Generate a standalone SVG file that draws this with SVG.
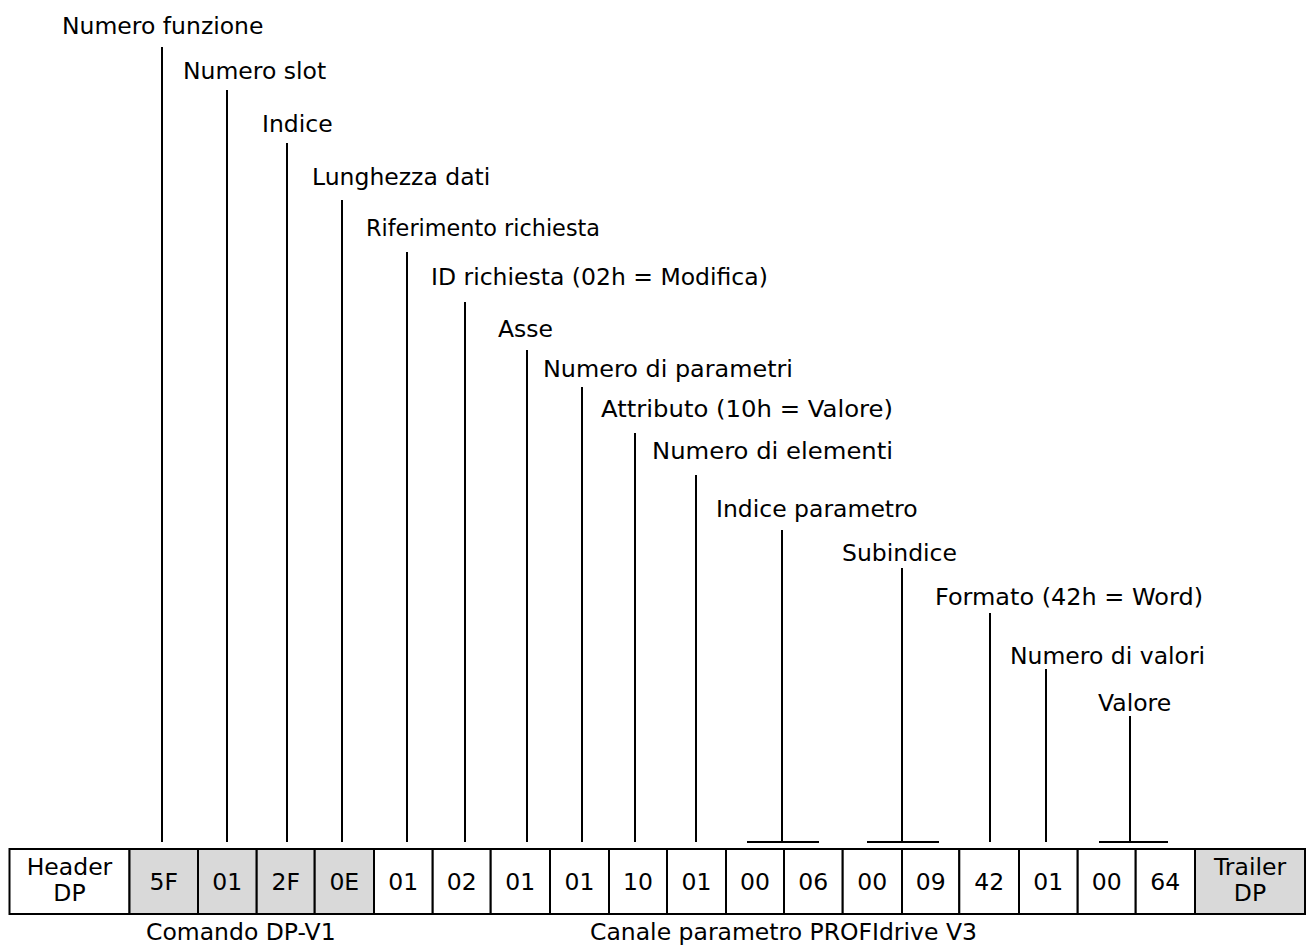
<svg xmlns="http://www.w3.org/2000/svg" width="1307" height="945" viewBox="0 0 1307 945">
  <style>
    .lbl { font-family: "DejaVu Sans", "Liberation Sans", sans-serif; font-size: 23.5px; fill: #000; }
    .val { font-family: "DejaVu Sans", "Liberation Sans", sans-serif; font-size: 23.5px; fill: #000; text-anchor: middle; }
    .cap { font-family: "DejaVu Sans", "Liberation Sans", sans-serif; font-size: 23.5px; fill: #000; }
    .cell { fill: #fff; stroke: #000; stroke-width: 2; }
    .cell.grey { fill: #d9d9d9; }
    .lead { stroke: #000; stroke-width: 2; fill: none; }
  </style>
  <rect width="1307" height="945" fill="#fff"/>

  <!-- field labels, stepped down from left to right -->
  <g id="lbl-funzione"><text class="lbl" x="62" y="34">Numero funzione</text></g>
  <g id="lbl-slot"><text class="lbl" x="183" y="79">Numero slot</text></g>
  <g id="lbl-indice"><text class="lbl" x="262" y="132">Indice</text></g>
  <g id="lbl-lunghezza"><text class="lbl" x="312" y="185">Lunghezza dati</text></g>
  <g id="lbl-riferimento"><text class="lbl" x="366" y="236" textLength="234" lengthAdjust="spacingAndGlyphs">Riferimento richiesta</text></g>
  <g id="lbl-id"><text class="lbl" x="431" y="285">ID richiesta (02h = Modifica)</text></g>
  <g id="lbl-asse"><text class="lbl" x="498" y="337">Asse</text></g>
  <g id="lbl-nparam"><text class="lbl" x="543" y="377" textLength="250" lengthAdjust="spacingAndGlyphs">Numero di parametri</text></g>
  <g id="lbl-attributo"><text class="lbl" x="601" y="417" textLength="292" lengthAdjust="spacingAndGlyphs">Attributo (10h = Valore)</text></g>
  <g id="lbl-nelem"><text class="lbl" x="652" y="459" textLength="241" lengthAdjust="spacingAndGlyphs">Numero di elementi</text></g>
  <g id="lbl-iparam"><text class="lbl" x="716" y="517">Indice parametro</text></g>
  <g id="lbl-subindice"><text class="lbl" x="842" y="561">Subindice</text></g>
  <g id="lbl-formato"><text class="lbl" x="935" y="605" textLength="268" lengthAdjust="spacingAndGlyphs">Formato (42h = Word)</text></g>
  <g id="lbl-nvalori"><text class="lbl" x="1010" y="664">Numero di valori</text></g>
  <g id="lbl-valore"><text class="lbl" x="1098" y="711">Valore</text></g>

  <!-- leader lines from labels down to the telegram bytes -->
  <g id="connectors" class="lead">
    <line x1="162" y1="47" x2="162" y2="842"/>
    <line x1="227" y1="90" x2="227" y2="842"/>
    <line x1="287" y1="143" x2="287" y2="842"/>
    <line x1="342" y1="200" x2="342" y2="842"/>
    <line x1="407" y1="252" x2="407" y2="842"/>
    <line x1="465" y1="302" x2="465" y2="842"/>
    <line x1="527" y1="350" x2="527" y2="842"/>
    <line x1="582" y1="387" x2="582" y2="842"/>
    <line x1="635" y1="433" x2="635" y2="842"/>
    <line x1="696" y1="475" x2="696" y2="842"/>
    <line x1="782" y1="530" x2="782" y2="842"/>
    <line x1="747" y1="842" x2="819" y2="842"/>
    <line x1="902" y1="568" x2="902" y2="842"/>
    <line x1="867" y1="842" x2="939" y2="842"/>
    <line x1="990" y1="613" x2="990" y2="842"/>
    <line x1="1046" y1="669" x2="1046" y2="842"/>
    <line x1="1130" y1="716" x2="1130" y2="842"/>
    <line x1="1099" y1="842" x2="1168" y2="842"/>
  </g>

  <!-- telegram byte cells -->
  <g id="cell-header"><rect class="cell" x="9.5" y="849" width="120" height="65"/><text class="val" x="69.5" y="875">Header</text><text class="val" x="69.5" y="901">DP</text></g>
  <g id="cell-5F"><rect class="cell grey" x="129.5" y="849" width="68.5" height="65"/><text class="val" x="163.8" y="890">5F</text></g>
  <g id="cell-01a"><rect class="cell grey" x="198" y="849" width="58.7" height="65"/><text class="val" x="227.3" y="890">01</text></g>
  <g id="cell-2F"><rect class="cell grey" x="256.7" y="849" width="58" height="65"/><text class="val" x="285.7" y="890">2F</text></g>
  <g id="cell-0E"><rect class="cell grey" x="314.7" y="849" width="59.3" height="65"/><text class="val" x="344.3" y="890">0E</text></g>
  <g id="cell-01b"><rect class="cell" x="374" y="849" width="58.7" height="65"/><text class="val" x="403.3" y="890">01</text></g>
  <g id="cell-02"><rect class="cell" x="432.7" y="849" width="58" height="65"/><text class="val" x="461.7" y="890">02</text></g>
  <g id="cell-01c"><rect class="cell" x="490.7" y="849" width="59.3" height="65"/><text class="val" x="520.3" y="890">01</text></g>
  <g id="cell-01d"><rect class="cell" x="550" y="849" width="59" height="65"/><text class="val" x="579.5" y="890">01</text></g>
  <g id="cell-10"><rect class="cell" x="609" y="849" width="58" height="65"/><text class="val" x="638" y="890">10</text></g>
  <g id="cell-01e"><rect class="cell" x="667" y="849" width="59" height="65"/><text class="val" x="696.5" y="890">01</text></g>
  <g id="cell-00a"><rect class="cell" x="726" y="849" width="58" height="65"/><text class="val" x="755" y="890">00</text></g>
  <g id="cell-06"><rect class="cell" x="784" y="849" width="58.7" height="65"/><text class="val" x="813.3" y="890">06</text></g>
  <g id="cell-00b"><rect class="cell" x="842.7" y="849" width="59.3" height="65"/><text class="val" x="872.3" y="890">00</text></g>
  <g id="cell-09"><rect class="cell" x="902" y="849" width="57.3" height="65"/><text class="val" x="930.7" y="890">09</text></g>
  <g id="cell-42"><rect class="cell" x="959.3" y="849" width="59.7" height="65"/><text class="val" x="989.2" y="890">42</text></g>
  <g id="cell-01f"><rect class="cell" x="1019" y="849" width="58.7" height="65"/><text class="val" x="1048.3" y="890">01</text></g>
  <g id="cell-00c"><rect class="cell" x="1077.7" y="849" width="58" height="65"/><text class="val" x="1106.7" y="890">00</text></g>
  <g id="cell-64"><rect class="cell" x="1135.7" y="849" width="59.3" height="65"/><text class="val" x="1165.3" y="890">64</text></g>
  <g id="cell-trailer"><rect class="cell grey" x="1195" y="849" width="110" height="65"/><text class="val" x="1250" y="875">Trailer</text><text class="val" x="1250" y="901">DP</text></g>

  <!-- section captions under the telegram -->
  <g id="cap-dpv1"><text class="cap" x="146" y="940">Comando DP-V1</text></g>
  <g id="cap-profidrive"><text class="cap" x="590" y="940">Canale parametro PROFIdrive V3</text></g>
</svg>
